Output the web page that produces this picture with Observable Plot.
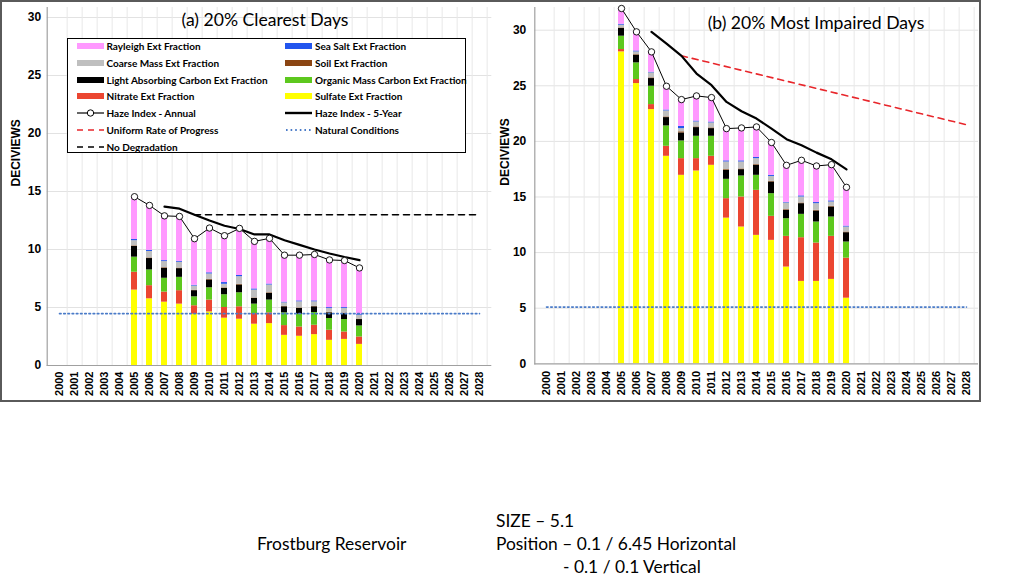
<!DOCTYPE html>
<html><head><meta charset="utf-8">
<script src="https://cdn.jsdelivr.net/npm/d3@7"></script>
<script src="https://cdn.jsdelivr.net/npm/@observablehq/plot@0.6"></script>
<style>
body{margin:0;background:#fff;}
#wrap{position:relative;width:1024px;height:576px;overflow:hidden;font-family:Lato,"Open Sans",sans-serif;color:#000;}
#frame{position:absolute;left:0;top:0;width:977px;height:398px;border:2px solid #5a5a5a;pointer-events:none;}
.title{position:absolute;font-family:Lato,sans-serif;font-size:17.6px;white-space:nowrap;transform:translateX(-50%);}
#legend{position:absolute;left:67px;top:38px;width:397px;height:113px;border:1.6px solid #000;background:#fff;font-family:Lato,sans-serif;font-weight:bold;font-size:10px;}
.li{position:absolute;height:12px;white-space:nowrap;}
.li svg{position:absolute;left:0;top:0;}
.li span{position:absolute;top:-1px;line-height:14px;}
.note{position:absolute;font-family:Lato,sans-serif;font-size:17.4px;white-space:nowrap;line-height:20px;}
</style></head><body><div id="wrap"></div>
<script>
// ---------- data ----------
const axisYears = [2000,2001,2002,2003,2004,2005,2006,2007,2008,2009,2010,2011,2012,2013,2014,2015,2016,2017,2018,2019,2020,2021,2022,2023,2024,2025,2026,2027,2028];
const years = [2005,2006,2007,2008,2009,2010,2011,2012,2013,2014,2015,2016,2017,2018,2019,2020];
const components = ["Sulfate","Nitrate","Organic Mass Carbon","Light Absorbing Carbon","Soil","Coarse Mass","Sea Salt","Rayleigh"];
const componentColors = ["#FFFF00","#EB4631","#5DC81E","#000000","#8B4513","#BFBFBF","#2255EE","#FF99FF"];

// (a) 20% clearest days — extinction fractions (deciviews)
const clearSulfate  = [6.5,5.75,5.46,5.29,4.42,4.62,4.08,3.99,3.56,3.61,2.6,2.52,2.66,2.17,2.25,1.82];
const clearNitrate  = [1.54,1.13,0.87,1.16,0.73,1.02,0.92,1.07,0.92,0.93,0.84,0.8,0.81,0.87,0.64,0.64];
const clearOrganic  = [1.3,1.36,1.19,1.15,0.77,1.06,1.1,1.21,0.81,1.1,1.1,1.1,1.1,1.01,1.07,0.95];
const clearLAC      = [0.92,0.98,0.86,0.75,0.53,0.67,0.55,0.67,0.49,0.58,0.52,0.5,0.49,0.49,0.52,0.55];
const clearSoil     = [0.05,0.05,0.05,0.05,0.04,0.05,0.04,0.05,0.04,0.05,0.04,0.04,0.04,0.04,0.04,0.04];
const clearCoarse   = [0.45,0.56,0.53,0.5,0.36,0.47,0.31,0.67,0.68,0.67,0.3,0.53,0.39,0.33,0.39,0.34];
const clearSeaSalt  = [0.1,0.1,0.08,0.08,0.06,0.1,0.15,0.1,0.1,0.08,0.06,0.08,0.08,0.08,0.08,0.08];
const clearRayleigh = [3.69,3.87,3.86,3.87,4.02,3.86,4.04,4.06,4.1,3.94,4.05,3.94,4.0,4.11,4.06,3.99];
const clearHaze     = [14.55,13.8,12.9,12.85,10.93,11.85,11.19,11.82,10.7,10.96,9.51,9.51,9.57,9.1,9.05,8.41];
const fiveYearYears = [2007,2008,2009,2010,2011,2012,2013,2014,2015,2016,2017,2018,2019,2020];
const clearFiveYear = [13.7,13.52,13.0,12.5,12.05,11.77,11.3,11.3,10.8,10.4,10.0,9.65,9.35,9.08];
const noDegradationYears = [2009,2028];
const noDegradation = [13.0,13.0];
const ncYears = [2000,2028];
const clearNatural = [4.47,4.47];

// (b) 20% most impaired days
const impSulfate  = [28.05,25.2,22.86,18.66,16.95,17.34,17.85,13.1,12.3,11.55,11.1,8.7,7.41,7.41,7.59,5.9];
const impNitrate  = [0.21,0.36,0.45,0.9,1.5,1.11,0.81,1.75,2.7,4.05,2.16,2.76,3.93,3.45,3.87,3.6];
const impOrganic  = [1.2,1.5,1.65,1.83,1.59,2.01,1.8,1.74,1.89,1.35,2.04,1.59,2.1,1.89,1.74,1.45];
const impLAC      = [0.69,0.69,0.69,0.75,0.72,0.78,0.69,0.81,0.57,0.9,1.05,0.75,0.96,0.99,0.9,0.84];
const impSoil     = [0.05,0.05,0.06,0.06,0.1,0.06,0.06,0.06,0.06,0.06,0.06,0.06,0.06,0.06,0.06,0.06];
const impCoarse   = [0.25,0.25,0.45,0.54,0.29,0.45,0.45,0.69,0.63,0.54,0.44,0.6,0.54,0.6,0.39,0.45];
const impSeaSalt  = [0.08,0.08,0.06,0.08,0.2,0.08,0.08,0.1,0.1,0.1,0.1,0.06,0.1,0.1,0.1,0.08];
const impRayleigh = [1.42,1.72,1.83,2.14,2.41,2.26,2.2,2.9,2.96,2.75,2.95,3.33,3.2,3.29,3.26,3.49];
const impHaze     = [31.95,29.85,28.05,24.96,23.76,24.09,23.94,21.15,21.21,21.3,19.9,17.85,18.3,17.79,17.91,15.87];
const impFiveYear = [29.85,28.8,27.69,26.1,25.05,23.55,22.71,22.05,21.15,20.2,19.65,18.99,18.39,17.48];
const urpYears = [2009,2028];
const impURP = [27.7,21.5];
const impNatural = [5.1,5.1];

const yTicks = [0,5,10,15,20,25,30];

const legendLeft = [
  {label:"Rayleigh Ext Fraction", kind:"bar", color:"#FF99FF"},
  {label:"Coarse Mass Ext Fraction", kind:"bar", color:"#BFBFBF"},
  {label:"Light Absorbing Carbon Ext Fraction", kind:"bar", color:"#000000"},
  {label:"Nitrate Ext Fraction", kind:"bar", color:"#EB4631"},
  {label:"Haze Index - Annual", kind:"annual", color:"#000"},
  {label:"Uniform Rate of Progress", kind:"dash", color:"#E8262B"},
  {label:"No Degradation", kind:"dash", color:"#000"}
];
const legendRight = [
  {label:"Sea Salt Ext Fraction", kind:"bar", color:"#2255EE"},
  {label:"Soil Ext Fraction", kind:"bar", color:"#8B4513"},
  {label:"Organic Mass Carbon Ext Fraction", kind:"bar", color:"#5DC81E"},
  {label:"Sulfate Ext Fraction", kind:"bar", color:"#FFFF00"},
  {label:"Haze Index - 5-Year", kind:"thick", color:"#000"},
  {label:"Natural Conditions", kind:"dot", color:"#4A7BC8"}
];

// ---------- build ----------
function stackRows(arrs){
  const rows = [];
  years.forEach((y,i)=>{ components.forEach((c,k)=>rows.push({year:y, comp:c, value:arrs[k][i]})); });
  return rows;
}
const clearRows = stackRows([clearSulfate,clearNitrate,clearOrganic,clearLAC,clearSoil,clearCoarse,clearSeaSalt,clearRayleigh]);
const impRows = stackRows([impSulfate,impNitrate,impOrganic,impLAC,impSoil,impCoarse,impSeaSalt,impRayleigh]);
const zip = (xs, ys) => xs.map((x,i)=>({x, y:ys[i]}));

function panel(opts){
  const {width, marginLeft, marginRight, marginBottom, yMax, rows, haze, five, extra, nc, labelDx, tickPad, yearPad} = opts;
  const step = (width - marginLeft - marginRight) / axisYears.length;
  return Plot.plot({
    width, height: 402, marginLeft, marginRight, marginTop: 7, marginBottom,
    style: {fontFamily: "'Liberation Sans', Arial, sans-serif", fontWeight: "bold", fontSize: "12px", background: "transparent", overflow: "visible"},
    x: {type: "band", domain: axisYears, paddingInner: 0.6, paddingOuter: 0.3},
    y: {domain: [0, yMax]},
    color: {domain: components, range: componentColors},
    marks: [
      Plot.ruleY(yTicks.slice(1), {stroke: "#e2e2e2", strokeWidth: 1}),
      Plot.ruleX(axisYears, {x: d=>d, dx: step/2, stroke: "#e8e8e8", strokeWidth: 1}),
      Plot.barY(rows, {x: "year", y: "value", fill: "comp", order: null, inset: 0}),
      Plot.line(zip(ncYears, nc), {x: "x", y: "y", stroke: "#4A7BC8", strokeWidth: 1.6, strokeDasharray: "1.6,2.6"}),
      ...extra,
      Plot.line(zip(fiveYearYears, five), {x: "x", y: "y", stroke: "#000", strokeWidth: 2.2}),
      Plot.line(zip(years, haze), {x: "x", y: "y", stroke: "#000", strokeWidth: 1}),
      Plot.dot(zip(years, haze), {x: "x", y: "y", r: 3.2, fill: "#fff", stroke: "#000", strokeWidth: 0.9}),
      Plot.ruleY([0], {stroke: "#a0a0a0", strokeWidth: 1.2}),
      Plot.frame({anchor: "left", stroke: "#a0a0a0", strokeWidth: 1.2}),
      Plot.axisX({tickRotate: -90, tickSize: 0, tickPadding: yearPad, tickFormat: d => String(d), fontSize: 11, label: null}),
      Plot.axisY({ticks: yTicks, tickSize: 0, tickPadding: tickPad, fontSize: 12, label: null}),
      Plot.text(["DECIVIEWS"], {text: d => d, frameAnchor: "left", rotate: -90, dx: labelDx, fontSize: 12, fontWeight: "bold"})
    ]
  });
}

const wrap = document.getElementById("wrap");

const left = panel({
  width: 495, marginLeft: 46.7, marginRight: 3.7, marginBottom: 37, yMax: 30.86,
  rows: clearRows, haze: clearHaze, five: clearFiveYear, nc: clearNatural, labelDx: -31, tickPad: 6, yearPad: 6,
  extra: [Plot.line(zip(noDegradationYears, noDegradation), {x: "x", y: "y", stroke: "#000", strokeWidth: 1.6, strokeDasharray: "6,5"})]
});
left.style.position = "absolute"; left.style.left = "0px"; left.style.top = "0px";
wrap.appendChild(left);

const right = panel({
  width: 485, marginLeft: 39.3, marginRight: 2, marginBottom: 38.7, yMax: 32.04,
  rows: impRows, haze: impHaze, five: impFiveYear, nc: impNatural, labelDx: -30, tickPad: 8.5, yearPad: 7,
  extra: [Plot.line(zip(urpYears, impURP), {x: "x", y: "y", stroke: "#E8262B", strokeWidth: 1.6, strokeDasharray: "6,5"})]
});
right.style.position = "absolute"; right.style.left = "495px"; right.style.top = "0px";
wrap.appendChild(right);

// titles
function addDiv(cls, html, css){ const d = document.createElement("div"); d.className = cls; d.innerHTML = html; Object.assign(d.style, css); wrap.appendChild(d); return d; }
addDiv("title", "(a) 20% Clearest Days", {left: "265px", top: "9px"});
addDiv("title", "(b) 20% Most Impaired Days", {left: "816px", top: "12px"});

// legend
const lg = document.createElement("div"); lg.id = "legend"; wrap.appendChild(lg);
function swatch(kind, color){
  const w = 27, h = 12;
  if (kind === "bar") return `<svg width="${w}" height="${h}"><rect x="0" y="3" width="${w}" height="6" fill="${color}"/></svg>`;
  if (kind === "annual") return `<svg width="${w}" height="${h}"><line x1="0" y1="6" x2="${w}" y2="6" stroke="#000" stroke-width="1.2"/><circle cx="${w/2}" cy="6" r="3.2" fill="#fff" stroke="#000" stroke-width="1"/></svg>`;
  if (kind === "thick") return `<svg width="${w}" height="${h}"><line x1="0" y1="6" x2="${w}" y2="6" stroke="#000" stroke-width="2.4"/></svg>`;
  if (kind === "dash") return `<svg width="${w}" height="${h}"><line x1="0" y1="6" x2="${w}" y2="6" stroke="${color}" stroke-width="1.6" stroke-dasharray="6,5"/></svg>`;
  return `<svg width="${w}" height="${h}"><line x1="1" y1="6" x2="${w}" y2="6" stroke="${color}" stroke-width="1.8" stroke-dasharray="1.6,3"/></svg>`;
}
function addLegendCol(items, x){
  items.forEach((it, i) => {
    const d = document.createElement("div"); d.className = "li";
    d.style.left = x + "px"; d.style.top = (0.9 + i * 16.8) + "px";
    d.innerHTML = swatch(it.kind, it.color) + `<span style="left:30px">${it.label}</span>`;
    lg.appendChild(d);
  });
}
addLegendCol(legendLeft, 8.5);
addLegendCol(legendRight, 217);

// frame
const fr = document.createElement("div"); fr.id = "frame"; wrap.appendChild(fr);

// notes
addDiv("note", "Frostburg Reservoir", {left: "257px", top: "534px"});
addDiv("note", "SIZE – 5.1", {left: "496px", top: "511px"});
addDiv("note", "Position – 0.1 / 6.45 Horizontal", {left: "496px", top: "534px"});
addDiv("note", "- 0.1 / 0.1 Vertical", {left: "563px", top: "557px"});
</script></body></html>
